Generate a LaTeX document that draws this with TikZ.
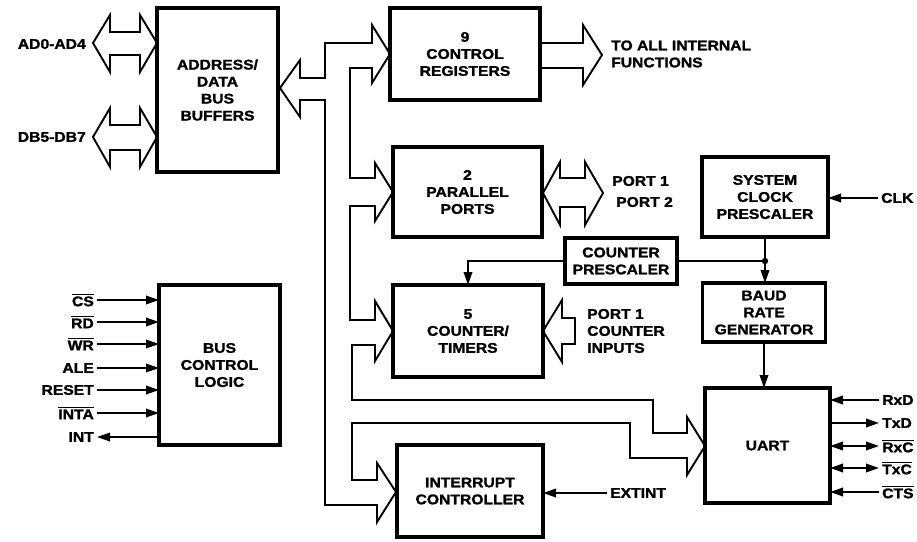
\documentclass[tikz,border=0pt]{standalone}
\usepackage{fontspec}
\setmainfont[FakeStretch=1.12,BoldFeatures={FakeBold=1.5}]{Liberation Sans}
\usetikzlibrary{arrows.meta}
\newcommand\dgfont{\bfseries\fontsize{14}{17}\selectfont}
\newcommand\myovl[1]{\leavevmode\vbox{\hrule height 1.6pt\kern1.2pt\hbox{#1}}}
\begin{document}
\begin{tikzpicture}[x=1pt,y=-1pt,
  blk/.style={draw,line width=3.2pt,align=center,inner sep=0pt,outer sep=0pt,font=\dgfont},
  bus/.style={draw,line width=1.9pt,line join=miter},
  sig/.style={line width=1.9pt,-{Triangle[length=13pt,width=8.5pt]}},
  bsig/.style={line width=1.9pt,{Triangle[length=13pt,width=8.5pt]}-{Triangle[length=13pt,width=8.5pt]}},
  lbl/.style={inner sep=0pt,font=\dgfont,align=left}]
\path[fill=white] (0,0) rectangle (917,541);
\useasboundingbox (0,0) rectangle (917,541);

% blocks
\node[blk,minimum width=121pt,minimum height=164pt] (buf) at (217.5,90) {ADDRESS/\\DATA\\BUS\\BUFFERS};
\node[blk,minimum width=150pt,minimum height=92pt] (cr) at (465,54) {9\\CONTROL\\REGISTERS};
\node[blk,minimum width=149pt,minimum height=90pt] (pp) at (467.5,192) {2\\PARALLEL\\PORTS};
\node[blk,minimum width=150pt,minimum height=92pt] (ct) at (468,331) {5\\COUNTER/\\TIMERS};
\node[blk,minimum width=112pt,minimum height=46pt] (cp) at (621,261) {COUNTER\\PRESCALER};
\node[blk,minimum width=126pt,minimum height=80pt] (scp) at (765,197) {SYSTEM\\CLOCK\\PRESCALER};
\node[blk,minimum width=123pt,minimum height=59pt] (brg) at (764,312.5) {BAUD\\RATE\\GENERATOR};
\node[blk,minimum width=125pt,minimum height=115pt] (uart) at (767.5,445.5) {UART};
\node[blk,minimum width=121pt,minimum height=160pt] (bcl) at (219.5,365) {BUS\\CONTROL\\LOGIC};
\node[blk,minimum width=146pt,minimum height=92pt] (ic) at (470,491) {INTERRUPT\\CONTROLLER};

% internal bus outline
\draw[bus] (300,78) -- (300,60) -- (280,88) -- (300,117) -- (300,100) -- (325,100)
  -- (325,505) -- (377,505) -- (377,522) -- (396,492) -- (377,463) -- (377,480) -- (352,480)
  -- (352,423) -- (630,423) -- (630,458) -- (687,458) -- (687,475) -- (705,446) -- (687,417)
  -- (687,433) -- (653,433) -- (653,400) -- (352,400) -- (352,345) -- (375,345) -- (375,361)
  -- (393,331) -- (375,301) -- (375,320) -- (350,320) -- (350,206) -- (375,206) -- (375,221)
  -- (393,192) -- (375,163) -- (375,178) -- (350,178) -- (350,68) -- (372,68) -- (372,83)
  -- (390,54) -- (372,25) -- (372,43) -- (325,43) -- (325,78) -- cycle;

% external fat arrows
\draw[bus] (157,43) -- (140,15) -- (140,32) -- (110,32) -- (110,15) -- (93,43) -- (110,72)
  -- (110,55) -- (140,55) -- (140,72) -- cycle;
\draw[bus] (157,137) -- (140,108) -- (140,125) -- (110,125) -- (110,108) -- (93,137) -- (110,167)
  -- (110,150) -- (140,150) -- (140,167) -- cycle;
\draw[bus] (541,43) -- (583,43) -- (583,25) -- (602,55) -- (583,85) -- (583,68) -- (541,68);
\draw[bus] (543,193) -- (560,162) -- (560,178) -- (585,178) -- (585,162) -- (603,193) -- (585,225)
  -- (585,207) -- (560,207) -- (560,225) -- cycle;
\draw[bus] (543,331) -- (562,300) -- (562,318) -- (575,318) -- (575,344) -- (562,344) -- (562,362) -- cycle;

% external labels
\node[lbl,anchor=east] (lad) at (86,44) {AD0-AD4};
\node[lbl,anchor=east] (ldb) at (86,137) {DB5-DB7};
\node[lbl,anchor=west] (lto) at (611,54) {TO ALL INTERNAL\\FUNCTIONS};
\node[lbl,anchor=west] (lp1) at (612,181) {PORT 1};
\node[lbl,anchor=west] (lp2) at (616,202) {PORT 2};
\node[lbl,anchor=west] (lci) at (587,331) {PORT 1\\COUNTER\\INPUTS};

% clock path
\coordinate (j) at (scp.south |- cp.east);
\draw[line width=1.9pt] (scp.south) -- (j);
\draw[sig] (j) -- (j |- brg.north);
\fill (j) circle (3.2pt);
\draw[line width=1.9pt] (cp.east) -- (j);
\draw[sig] (cp.west) -| (ct.north);
\draw[sig] (brg.south) -- (brg.south |- uart.north);
\node[lbl,anchor=west] (lclk) at (881,198) {CLK};
\draw[sig] ([xshift=-3pt]lclk.west) -- (lclk.west -| scp.east);

% EXTINT
\node[lbl,anchor=west] (lext) at (610,493) {EXTINT};
\draw[sig] ([xshift=-3pt]lext.west) -- (lext.west -| ic.east);

% UART signals
\node[lbl,anchor=west] (lrxd) at (882,400) {RxD};
\node[lbl,anchor=west] (ltxd) at (882,423) {TxD};
\node[lbl,anchor=west] (lrxc) at (882,446) {\myovl{RxC}};
\node[lbl,anchor=west] (ltxc) at (882,468) {\myovl{TxC}};
\node[lbl,anchor=west] (lcts) at (882,492) {\myovl{CTS}};
\draw[sig] ([xshift=-3pt]lrxd.west) -- (lrxd.west -| uart.east);
\draw[sig] (ltxd.west -| uart.east) -- ([xshift=-3pt]ltxd.west);
\draw[bsig] (lrxc.west -| uart.east) -- ([xshift=-3pt]lrxc.west);
\draw[bsig] (ltxc.west -| uart.east) -- ([xshift=-3pt]ltxc.west);
\draw[sig] ([xshift=-3pt]lcts.west) -- (lcts.west -| uart.east);

% bus control signals
\node[lbl,anchor=east] (lcs) at (94,300) {\myovl{CS}};
\node[lbl,anchor=east] (lrd) at (94,322) {\myovl{RD}};
\node[lbl,anchor=east] (lwr) at (94,344) {\myovl{WR}};
\node[lbl,anchor=east] (lale) at (94,368) {ALE};
\node[lbl,anchor=east] (lrst) at (94,390) {RESET};
\node[lbl,anchor=east] (linta) at (94,413) {\myovl{INTA}};
\node[lbl,anchor=east] (lint) at (94,437) {INT};
\draw[sig] ([xshift=3pt]lcs.east) -- (lcs.east -| bcl.west);
\draw[sig] ([xshift=3pt]lrd.east) -- (lrd.east -| bcl.west);
\draw[sig] ([xshift=3pt]lwr.east) -- (lwr.east -| bcl.west);
\draw[sig] ([xshift=3pt]lale.east) -- (lale.east -| bcl.west);
\draw[sig] ([xshift=3pt]lrst.east) -- (lrst.east -| bcl.west);
\draw[sig] ([xshift=3pt]linta.east) -- (linta.east -| bcl.west);
\draw[sig] (lint.east -| bcl.west) -- ([xshift=3pt]lint.east);
\end{tikzpicture}
\end{document}
